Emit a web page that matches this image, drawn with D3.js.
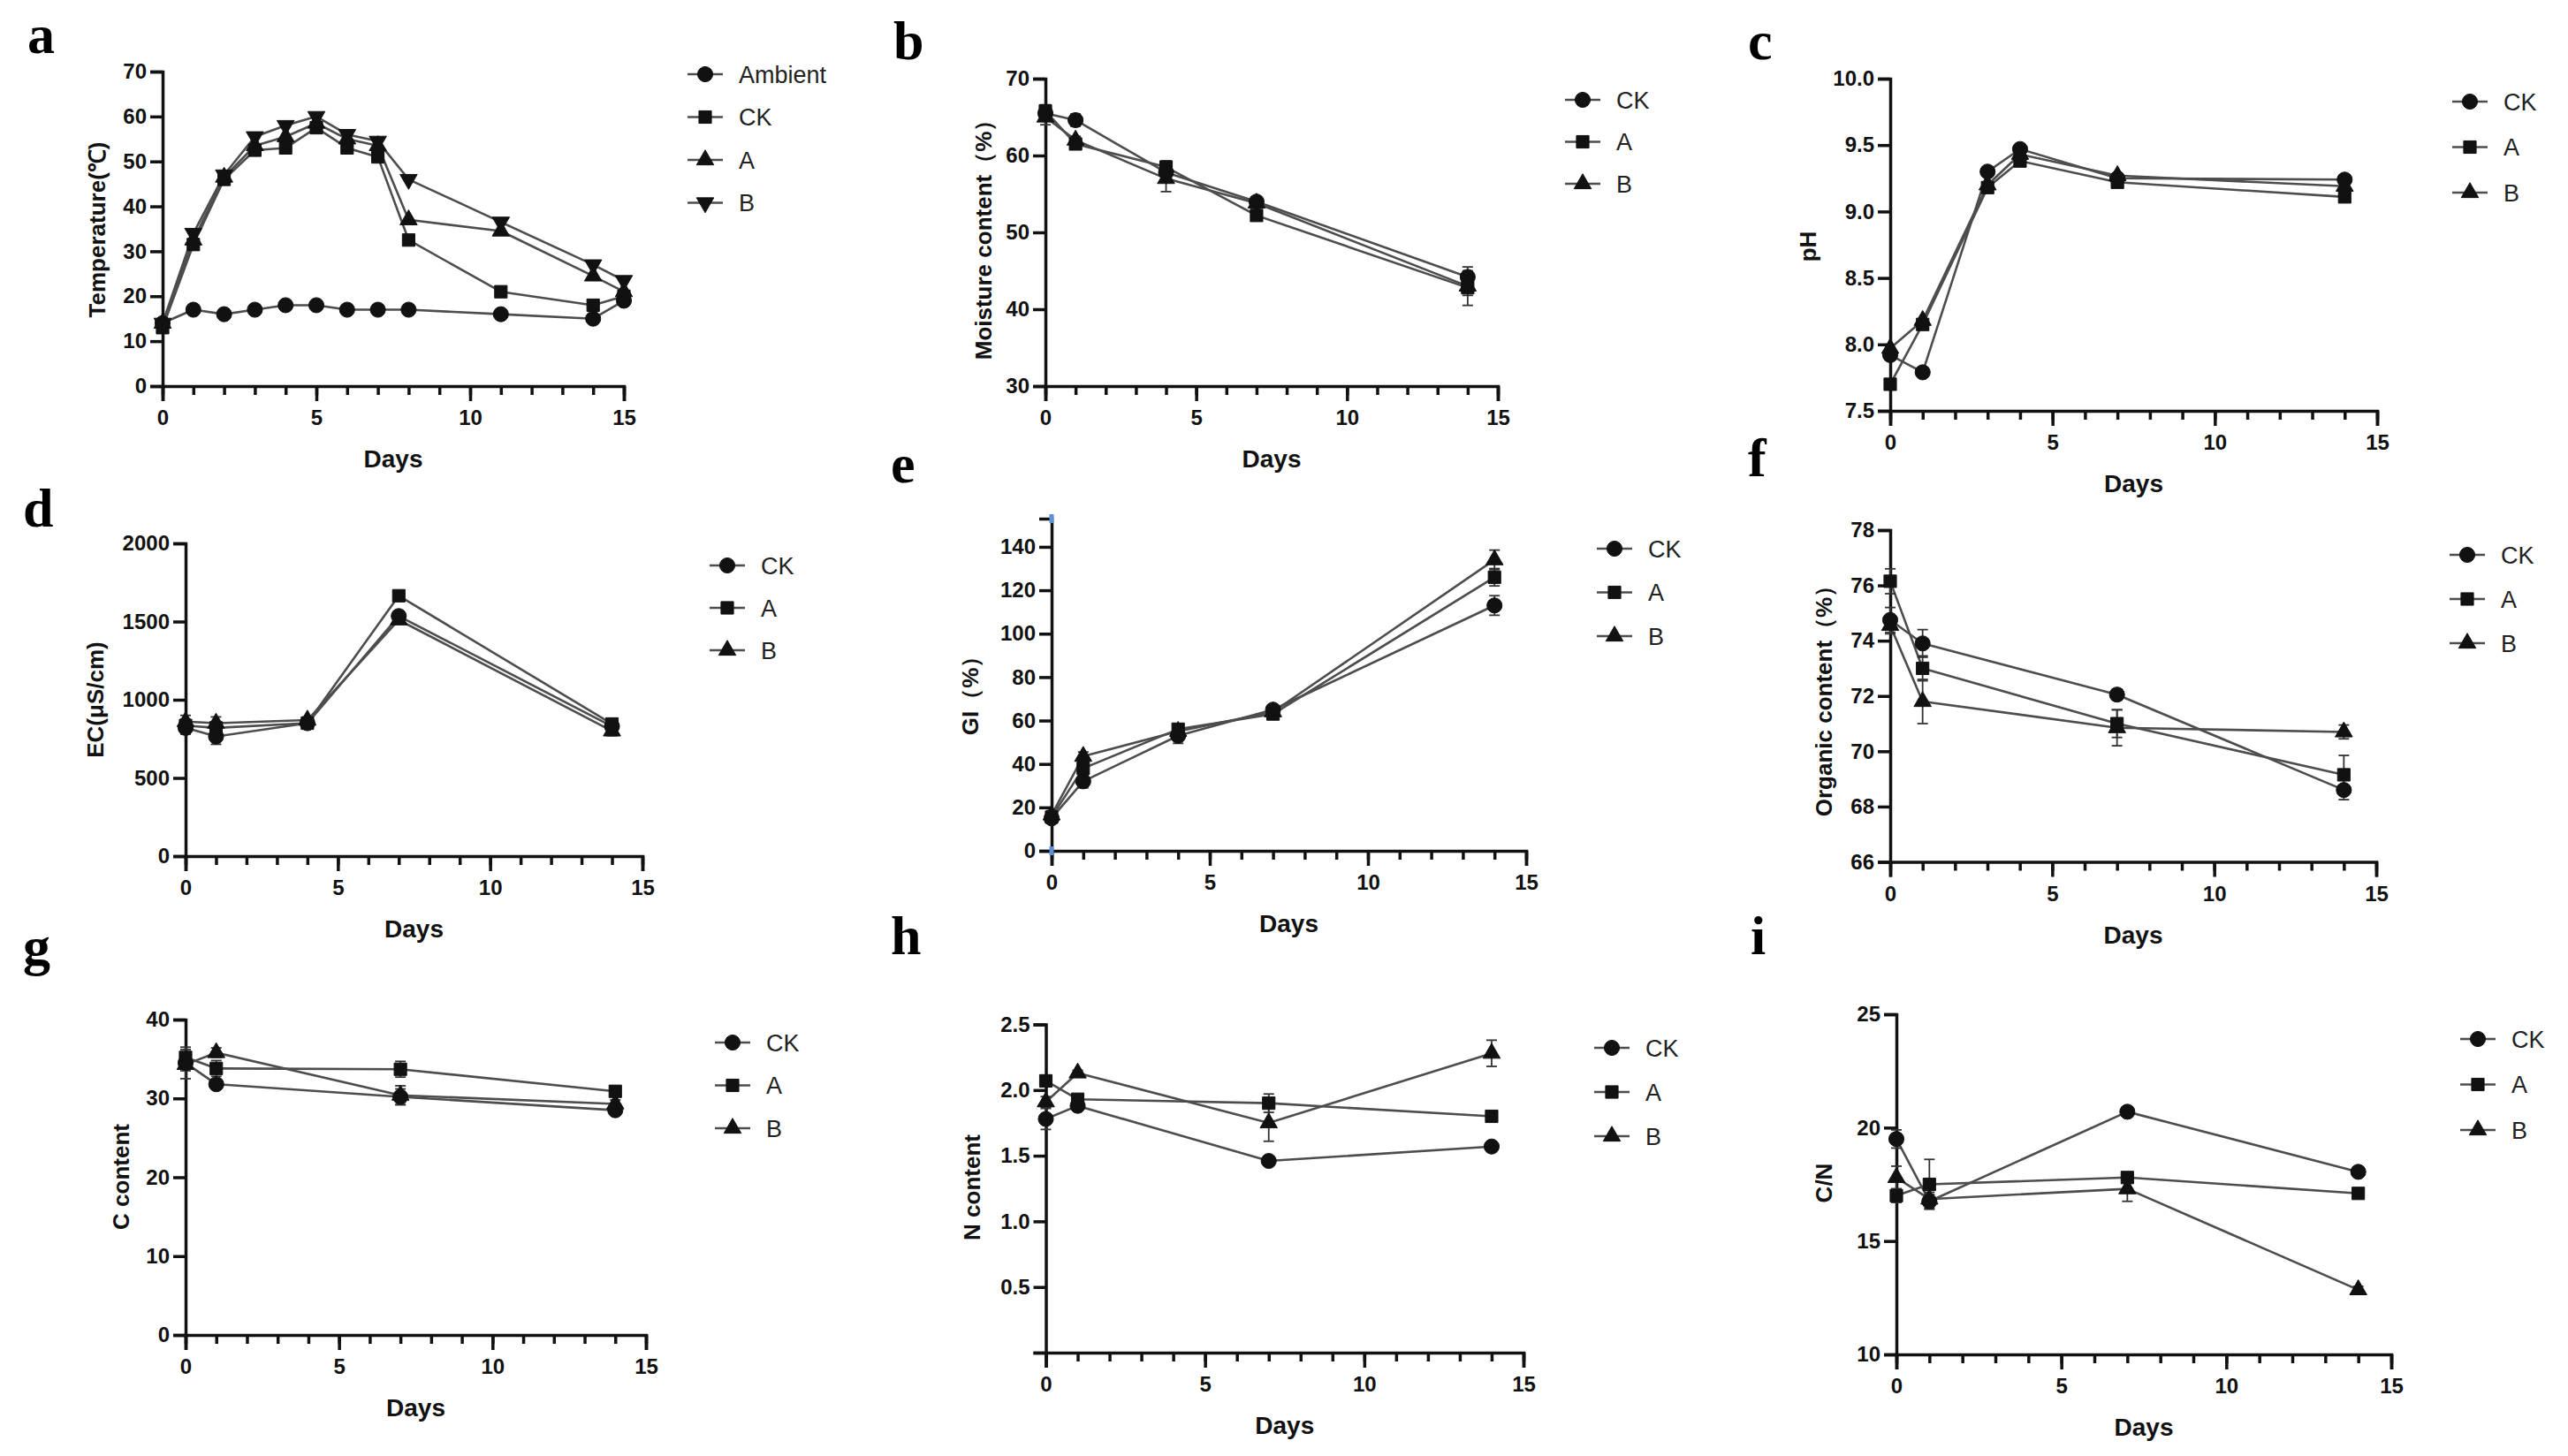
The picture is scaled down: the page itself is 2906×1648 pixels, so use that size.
<!DOCTYPE html>
<html>
<head>
<meta charset="utf-8">
<script src="https://cdn.jsdelivr.net/npm/d3@7"></script>
<style>
  body { margin: 0; background: #fff; }
</style>
</head>
<body>
<svg id="fig" width="2906" height="1648"></svg>
<script>
// ---------- data ----------
const seriesNames = ["CK", "A", "B"];
const seriesNamesTemp = ["Ambient", "CK", "A", "B"];

// a: temperature
const daysTemp = [0, 1, 2, 3, 4, 5, 6, 7, 8, 11, 14, 15];
const tempAmbient = [14, 17, 16, 17, 18, 18, 17, 17, 17, 16, 15, 19];
const tempCK = [13, 31.5, 46, 52.5, 53, 57.5, 53, 51, 32.5, 21, 18, 20];
const tempA = [14, 32.5, 46.5, 53.5, 55.5, 58.5, 55, 53.5, 37, 34.5, 24.5, 21];
const tempB = [14, 34, 47, 55.5, 58, 60, 56, 54.5, 46, 36.5, 27, 23.5];

// b: moisture
const daysMoist = [0, 1, 4, 7, 14];
const moistCK = [65.5, 64.6, 57.8, 54, 44.2];
const moistA = [65.8, 61.5, 58.5, 52.2, 42.8];
const moistB = [65, 62, 57, 53.8, 43];
const moistErrCK = [0.8, 0.8, 0.8, 0.6, 0.8];
const moistErrA = [0.8, 0.6, 0.8, 0.6, 1];
const moistErrB = [1, 0.5, 1.7, 0.6, 2.5];

// c: pH
const daysPH = [0, 1, 3, 4, 7, 14];
const phCK = [7.92, 7.79, 9.3, 9.47, 9.25, 9.24];
const phA = [7.7, 8.15, 9.18, 9.38, 9.22, 9.11];
const phB = [7.97, 8.18, 9.2, 9.43, 9.27, 9.19];

// d: EC
const daysEC = [0, 1, 4, 7, 14];
const ecCK = [820, 765, 850, 1535, 830];
const ecA = [835, 820, 850, 1665, 845];
const ecB = [860, 850, 870, 1510, 800];
const ecErrCK = [40, 50, 20, 30, 40];
const ecErrA = [40, 30, 20, 20, 30];
const ecErrB = [40, 40, 20, 20, 30];

// e: GI
const daysGI = [0, 1, 4, 7, 14];
const giCK = [15, 32, 53, 65, 113];
const giA = [15.5, 38, 56, 63, 126];
const giB = [16.5, 43.5, 55, 64, 134];
const giErrCK = [2, 3, 3.5, 2, 4.5];
const giErrA = [2, 3, 2.5, 2, 4];
const giErrB = [2, 2, 2.5, 2, 4.5];

// f: organic content
const daysOrg = [0, 1, 7, 14];
const orgCK = [74.75, 73.9, 72.05, 68.6];
const orgA = [76.15, 73.0, 71.0, 69.15];
const orgB = [74.55, 71.8, 70.85, 70.7];
const orgErrCK = [0.45, 0.5, 0.2, 0.35];
const orgErrA = [0.45, 0.45, 0.5, 0.7];
const orgErrB = [0.3, 0.8, 0.65, 0.25];

// g: C content
const daysC = [0, 1, 7, 14];
const cCK = [34.5, 31.8, 30.2, 28.5];
const cA = [35.2, 33.8, 33.7, 30.9];
const cB = [34.3, 35.8, 30.4, 29.3];
const cErrCK = [2, 0.6, 1, 0.5];
const cErrA = [1, 1, 1, 0.6];
const cErrB = [0.8, 0.6, 1.2, 0.5];

// h: N content
const daysN = [0, 1, 7, 14];
const nCK = [1.78, 1.88, 1.46, 1.57];
const nA = [2.07, 1.93, 1.9, 1.8];
const nB = [1.91, 2.13, 1.75, 2.28];
const nErrCK = [0.08, 0.03, 0.03, 0.03];
const nErrA = [0.04, 0.03, 0.07, 0.03];
const nErrB = [0.04, 0.02, 0.14, 0.1];

// i: C/N
const daysCN = [0, 1, 7, 14];
const cnCK = [19.5, 16.75, 20.7, 18.05];
const cnA = [17.0, 17.5, 17.8, 17.1];
const cnB = [17.8, 16.85, 17.3, 12.85];
const cnErrCK = [0.4, 0.3, 0.15, 0.15];
const cnErrA = [0.3, 1.1, 0.2, 0.15];
const cnErrB = [0.5, 0.3, 0.55, 0.15];

// tick values
const xTicksMajor = [0, 5, 10, 15];
const xTicksMinor = d3.range(0, 16);

// ---------- panel layout ----------
const panels = [
  { label: "a", lx: 31, ly: 60, x0: 184, x1: 706, yTop: 81, yBot: 437,
    domain: [0, 70], ticks: [0, 10, 20, 30, 40, 50, 60, 70], fmt: d3.format("d"),
    ytitle: "Temperature(\u2103)", tx: 110, ty: 260,
    legX: 798, legY: 84, legStep: 48.5,
    names: seriesNamesTemp, shapes: ["circle", "square", "triangle", "triangleDown"],
    days: daysTemp, values: [tempAmbient, tempCK, tempA, tempB], errors: null },
  { label: "b", lx: 1011, ly: 67, x0: 1183, x1: 1695, yTop: 89, yBot: 437,
    domain: [30, 70], ticks: [30, 40, 50, 60, 70], fmt: d3.format("d"),
    ytitle: "Moisture content\uFF08%\uFF09", tx: 1113, ty: 265,
    legX: 1791, legY: 113, legStep: 47.5,
    names: seriesNames, shapes: ["circle", "square", "triangle"],
    days: daysMoist, values: [moistCK, moistA, moistB], errors: [moistErrCK, moistErrA, moistErrB] },
  { label: "c", lx: 1978, ly: 67, x0: 2139, x1: 2690, yTop: 89, yBot: 465,
    domain: [7.5, 10], ticks: [7.5, 8, 8.5, 9, 9.5, 10], fmt: d3.format(".1f"),
    ytitle: "pH", tx: 2046, ty: 279,
    legX: 2795, legY: 115, legStep: 51.5,
    names: seriesNames, shapes: ["circle", "square", "triangle"],
    days: daysPH, values: [phCK, phA, phB], errors: null },
  { label: "d", lx: 26, ly: 596, x0: 210, x1: 727, yTop: 615, yBot: 969,
    domain: [0, 2000], ticks: [0, 500, 1000, 1500, 2000], fmt: d3.format("d"),
    ytitle: "EC(\u03BCS/cm)", tx: 108, ty: 792,
    legX: 823, legY: 640, legStep: 48,
    names: seriesNames, shapes: ["circle", "square", "triangle"],
    days: daysEC, values: [ecCK, ecA, ecB], errors: [ecErrCK, ecErrA, ecErrB] },
  { label: "e", lx: 1008, ly: 546, x0: 1190, x1: 1727, yTop: 587, yBot: 963,
    domain: [0, 153], ticks: [0, 20, 40, 60, 80, 100, 120, 140], fmt: d3.format("d"),
    ytitle: "GI\uFF08%\uFF09", tx: 1098, ty: 781,
    legX: 1827, legY: 621, legStep: 49.5,
    names: seriesNames, shapes: ["circle", "square", "triangle"],
    days: daysGI, values: [giCK, giA, giB], errors: [giErrCK, giErrA, giErrB], handles: true },
  { label: "f", lx: 1978, ly: 539, x0: 2139, x1: 2689, yTop: 600, yBot: 975.5,
    domain: [66, 78], ticks: [66, 68, 70, 72, 74, 76, 78], fmt: d3.format("d"),
    ytitle: "Organic content\uFF08%\uFF09", tx: 2064, ty: 787,
    legX: 2792, legY: 628, legStep: 50,
    names: seriesNames, shapes: ["circle", "square", "triangle"],
    days: daysOrg, values: [orgCK, orgA, orgB], errors: [orgErrCK, orgErrA, orgErrB] },
  { label: "g", lx: 26, ly: 1092, x0: 210, x1: 731, yTop: 1154, yBot: 1511,
    domain: [0, 40], ticks: [0, 10, 20, 30, 40], fmt: d3.format("d"),
    ytitle: "C content", tx: 137, ty: 1332,
    legX: 829, legY: 1180, legStep: 48.5,
    names: seriesNames, shapes: ["circle", "square", "triangle"],
    days: daysC, values: [cCK, cA, cB], errors: [cErrCK, cErrA, cErrB] },
  { label: "h", lx: 1008, ly: 1080, x0: 1183.5, x1: 1724, yTop: 1159.5, yBot: 1531,
    domain: [0, 2.5], ticks: [0, 0.5, 1, 1.5, 2, 2.5], fmt: d => d === 0 ? "" : d3.format(".1f")(d),
    ytitle: "N content", tx: 1100, ty: 1344,
    legX: 1824, legY: 1186, legStep: 50,
    names: seriesNames, shapes: ["circle", "square", "triangle"],
    days: daysN, values: [nCK, nA, nB], errors: [nErrCK, nErrA, nErrB] },
  { label: "i", lx: 1981, ly: 1080, x0: 2146, x1: 2706, yTop: 1148, yBot: 1533,
    domain: [10, 25], ticks: [10, 15, 20, 25], fmt: d3.format("d"),
    ytitle: "C/N", tx: 2064, ty: 1339,
    legX: 2804, legY: 1176, legStep: 51.5,
    names: seriesNames, shapes: ["circle", "square", "triangle"],
    days: daysCN, values: [cnCK, cnA, cnB], errors: [cnErrCK, cnErrA, cnErrB] }
];

const narrow = "'Liberation Sans Narrow','Arial Narrow','Liberation Sans',Arial,sans-serif";
const wide = "'Liberation Sans',Arial,sans-serif";
const lineColor = "#4d4d4d";
const markColor = "#111";

const symbolTypes = {
  circle: d3.symbol().type(d3.symbolCircle).size(230),
  square: d3.symbol().type(d3.symbolSquare).size(200),
  triangle: d3.symbol().type(d3.symbolTriangle).size(165),
  triangleDown: d3.symbol().type(d3.symbolTriangle).size(165)
};

function marker(g, shape, x, y) {
  let rot = shape === "triangleDown" ? " rotate(180)" : "";
  g.append("path")
    .attr("d", symbolTypes[shape]())
    .attr("fill", markColor)
    .attr("stroke", markColor)
    .attr("stroke-width", 1)
    .attr("transform", "translate(" + x + "," + y + ")" + rot);
}

let svg = d3.select("#fig");

function drawPanel(p) {
  let g = svg.append("g").attr("class", "panel-" + p.label);

  let xScale = d3.scaleLinear().domain([0, 15]).range([p.x0, p.x1]);
  let yScale = d3.scaleLinear().domain(p.domain).range([p.yBot, p.yTop]);

  // panel letter
  g.append("text")
    .attr("x", p.lx).attr("y", p.ly)
    .attr("font-family", "'Liberation Serif','Times New Roman',serif")
    .attr("font-weight", "bold")
    .attr("font-size", 62)
    .attr("fill", "#000")
    .text(p.label);

  // x axis: minor ticks every day, labels on majors
  let xMinor = d3.axisBottom(xScale).tickValues(xTicksMinor).tickSize(10).tickFormat("");
  let xMajor = d3.axisBottom(xScale).tickValues(xTicksMajor).tickSize(17).tickPadding(10).tickFormat(d3.format("d"));

  g.append("g").attr("transform", "translate(0," + p.yBot + ")").call(xMinor)
    .call(a => a.select(".domain").remove())
    .call(a => a.selectAll(".tick line").attr("stroke", "#111").attr("stroke-width", 3.5));

  let xg = g.append("g").attr("transform", "translate(0," + p.yBot + ")").call(xMajor);
  xg.select(".domain").attr("stroke", "#111").attr("stroke-width", 3.5);
  xg.selectAll(".tick line").attr("stroke", "#111").attr("stroke-width", 3.5);
  xg.selectAll(".tick text")
    .attr("font-family", narrow).attr("font-weight", "bold")
    .attr("font-size", 24).attr("fill", "#111");

  // y axis
  let yAxis = d3.axisLeft(yScale).tickValues(p.ticks).tickSize(14).tickPadding(4).tickFormat(p.fmt);
  let yg = g.append("g").attr("transform", "translate(" + p.x0 + ",0)").call(yAxis);
  yg.select(".domain").attr("stroke", "#111").attr("stroke-width", 3.5);
  yg.selectAll(".tick line").attr("stroke", "#111").attr("stroke-width", 3.5);
  yg.selectAll(".tick text")
    .attr("font-family", narrow).attr("font-weight", "bold")
    .attr("font-size", 24).attr("fill", "#111");

  // little selection handles seen on panel e
  if (p.handles) {
    [p.yTop, p.yBot].forEach(function (yy) {
      g.append("rect")
        .attr("x", p.x0 - 2.5).attr("y", yy - 5)
        .attr("width", 5).attr("height", 10)
        .attr("fill", "#5b8fd6");
    });
  }

  // axis titles
  g.append("text")
    .attr("x", (p.x0 + p.x1) / 2)
    .attr("y", p.yBot + 92)
    .attr("text-anchor", "middle")
    .attr("font-family", narrow).attr("font-weight", "bold")
    .attr("font-size", 28).attr("fill", "#111")
    .text("Days");

  g.append("text")
    .attr("transform", "translate(" + p.tx + "," + p.ty + ") rotate(-90)")
    .attr("text-anchor", "middle")
    .attr("dy", "0.36em")
    .attr("font-family", wide).attr("font-weight", "bold")
    .attr("font-size", 26).attr("fill", "#111")
    .text(p.ytitle);

  // series lines
  let line = d3.line()
    .x(function (d) { return xScale(d[0]); })
    .y(function (d) { return yScale(d[1]); });

  p.values.forEach(function (vals) {
    let pts = p.days.map(function (day, j) { return [day, vals[j]]; });
    g.append("path")
      .datum(pts)
      .attr("fill", "none")
      .attr("stroke", lineColor)
      .attr("stroke-width", 2.6)
      .attr("stroke-linejoin", "round")
      .attr("d", line);
  });

  // error bars
  if (p.errors) {
    p.values.forEach(function (vals, i) {
      p.days.forEach(function (day, j) {
        let e = p.errors[i][j];
        let cx = xScale(day);
        let yHi = yScale(vals[j] + e), yLo = yScale(vals[j] - e);
        g.append("line").attr("x1", cx).attr("x2", cx).attr("y1", yHi).attr("y2", yLo)
          .attr("stroke", "#333").attr("stroke-width", 1.8);
        [yHi, yLo].forEach(function (yy) {
          g.append("line").attr("x1", cx - 6).attr("x2", cx + 6).attr("y1", yy).attr("y2", yy)
            .attr("stroke", "#333").attr("stroke-width", 1.8);
        });
      });
    });
  }

  // markers
  p.values.forEach(function (vals, i) {
    p.days.forEach(function (day, j) {
      marker(g, p.shapes[i], xScale(day), yScale(vals[j]));
    });
  });

  // legend
  p.names.forEach(function (name, i) {
    let ly = p.legY + i * p.legStep;
    g.append("line")
      .attr("x1", p.legX - 20).attr("x2", p.legX + 20)
      .attr("y1", ly).attr("y2", ly)
      .attr("stroke", lineColor).attr("stroke-width", 2.6);
    marker(g, p.shapes[i], p.legX, ly);
    g.append("text")
      .attr("x", p.legX + 38).attr("y", ly)
      .attr("dy", "0.36em")
      .attr("font-family", narrow)
      .attr("font-size", 27).attr("fill", "#222")
      .text(name);
  });
}

panels.forEach(drawPanel);
</script>
</body>
</html>
